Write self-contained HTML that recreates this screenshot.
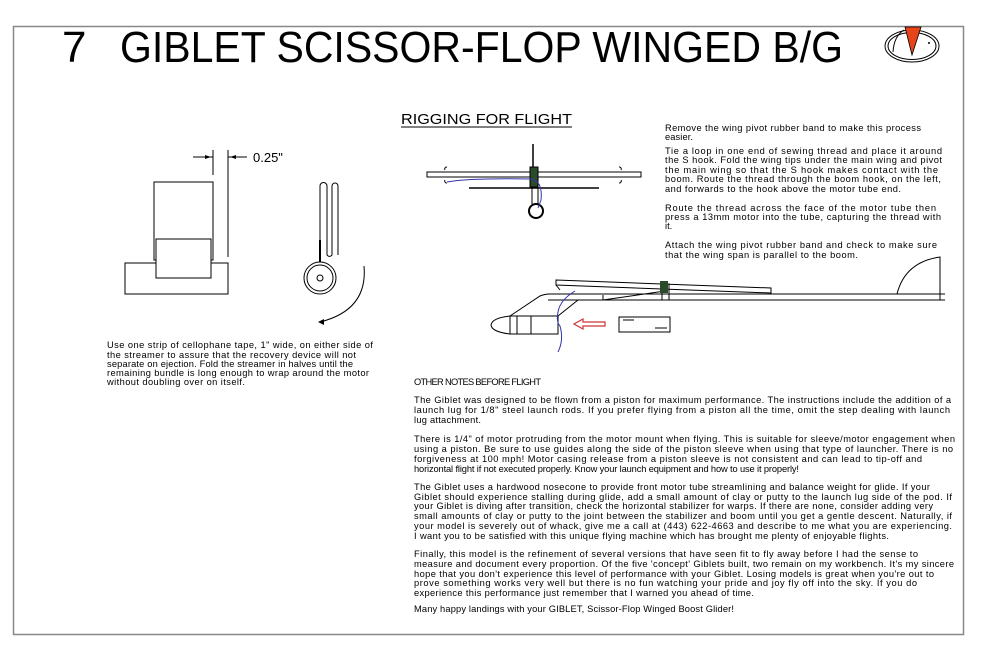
<!DOCTYPE html>
<html><head><meta charset="utf-8"><style>
html,body{margin:0;padding:0;background:#fff;}
svg{display:block;}
text{font-family:"Liberation Sans",sans-serif;fill:#000;}
.t{font-size:9.3px;}
</style></head><body>
<svg width="1000" height="647" viewBox="0 0 1000 647" xmlns="http://www.w3.org/2000/svg">
<rect x="13.5" y="26.5" width="950" height="608" fill="none" stroke="#888" stroke-width="1.5"/>
<text x="62" y="62" font-size="44">7</text>
<text x="120" y="62" font-size="44" textLength="723" lengthAdjust="spacingAndGlyphs">GIBLET SCISSOR-FLOP WINGED B/G</text>
<!-- logo -->
<g fill="none" stroke="#000" stroke-width="1">
<ellipse cx="912" cy="46" rx="27" ry="16"/>
<ellipse cx="912" cy="46" rx="24" ry="13.5"/>
<path d="M893,52 Q894,36 904,30"/>
</g>
<polygon points="905,27 921,27 912,55" fill="#e8441a" stroke="#000" stroke-width="0.8"/>
<circle cx="929" cy="43" r="1" fill="#000"/>

<!-- left drawing -->
<g stroke="#000" stroke-width="1" fill="none">
<line x1="213" y1="150" x2="213" y2="175"/>
<line x1="228" y1="150" x2="228" y2="257"/>
<line x1="193" y1="157" x2="213" y2="157"/>
<line x1="228" y1="157" x2="247" y2="157"/>
<rect x="154" y="182" width="59" height="78"/>
<rect x="125" y="263" width="103" height="31"/>
<rect x="156" y="239" width="55" height="39" fill="#fff"/>
<path d="M320,255 V186 a3.5,3.5 0 0 1 7,0 V255 a3,3 0 0 0 5,0 V186 a3,3 0 0 1 6,0 V255"/>
<line x1="320" y1="240" x2="320" y2="262" stroke-width="2"/>
<circle cx="320" cy="278" r="16"/>
<circle cx="320" cy="278" r="13"/>
<circle cx="320" cy="278" r="3"/>
<path d="M364,266 Q368,310 320,322"/>
</g>
<polygon points="318,322 324,319 324,325" fill="#000"/>
<polygon points="211,157 205,155 205,159" fill="#000"/>
<polygon points="230,157 236,155 236,159" fill="#000"/>
<text x="253" y="162" font-size="13">0.25"</text>
<g class="t">
<text x="107" y="348" textLength="266">Use one strip of cellophane tape, 1" wide, on either side of</text>
<text x="107" y="358" textLength="249">the streamer to assure that the recovery device will not</text>
<text x="107" y="367" textLength="246">separate on ejection. Fold the streamer in halves until the</text>
<text x="107" y="376" textLength="262">remaining bundle is long enough to wrap around the motor</text>
<text x="107" y="385" textLength="138">without doubling over on itself.</text>
</g>

<!-- rigging -->
<text x="401" y="124" font-size="15" textLength="171" lengthAdjust="spacingAndGlyphs">RIGGING FOR FLIGHT</text>
<line x1="401" y1="127" x2="572" y2="127" stroke="#000" stroke-width="1"/>
<g stroke="#000" stroke-width="1" fill="none">
<line x1="533" y1="144" x2="533" y2="172" stroke-width="1.5"/>
<rect x="427" y="172" width="214" height="5"/>
<line x1="469" y1="188" x2="599" y2="188" stroke-width="1.5"/>
<line x1="532" y1="188" x2="532" y2="204"/>
<line x1="538" y1="188" x2="538" y2="204"/>
<circle cx="536" cy="211" r="7" stroke-width="2"/>
<path d="M445,170 a2,2 0 0 1 2,-3 M619,167 a2,2 0 0 1 2,3 M445,180 a2,2 0 0 0 2,3 M619,183 a2,2 0 0 0 2,-3"/>
</g>
<rect x="530" y="167" width="8" height="20" fill="#2a4a2a" stroke="#000"/>
<path d="M447,182 Q470,178 530,179 Q543,180 541,200 L538,208" fill="none" stroke="#33a" stroke-width="1"/>

<!-- side view -->
<g stroke="#000" stroke-width="1" fill="none">
<line x1="548" y1="294" x2="945" y2="294"/>
<line x1="548" y1="300" x2="945" y2="300"/>
<path d="M897,294 Q905,262 940,257 V300"/>
<polygon points="556,280 771,288 771,293 556,285"/>
<line x1="556" y1="285" x2="560" y2="290"/>
<path d="M665,291 L603,300 M603,300 V295"/>
<rect x="662" y="284" width="7" height="16"/>
<path d="M510,316 L540,296 Q545,294 550,294"/>
<line x1="558" y1="316" x2="578" y2="300"/>
<rect x="510" y="316" width="48" height="18"/>
<line x1="517" y1="316" x2="517" y2="334"/>
<line x1="531" y1="316" x2="531" y2="334"/>
<path d="M510,316 Q492,318 491,325 Q492,332 510,334"/>
<rect x="619" y="317" width="51" height="15"/>
<line x1="623" y1="320" x2="634" y2="320"/>
<line x1="655" y1="328" x2="667" y2="328"/>
</g>
<rect x="660" y="281" width="8" height="12" fill="#2a4a2a"/>
<path d="M575,291 Q560,300 558,312 Q556,322 560,326 Q564,340 558,352" fill="none" stroke="#33a" stroke-width="1"/>
<path d="M605,322 H583 V319 L574,324 L583,329 V326 H605 Z" fill="#fff" stroke="#c33" stroke-width="1.2"/>

<g class="t">
<text x="665" y="131" textLength="256">Remove the wing pivot rubber band to make this process</text>
<text x="665" y="140" textLength="28">easier.</text>
<text x="665" y="154" textLength="277">Tie a loop in one end of sewing thread and place it around</text>
<text x="665" y="163" textLength="277">the S hook. Fold the wing tips under the main wing and pivot</text>
<text x="665" y="173" textLength="273">the main wing so that the S hook makes contact with the</text>
<text x="665" y="182" textLength="276">boom. Route the thread through the boom hook, on the left,</text>
<text x="665" y="192" textLength="236">and forwards to the hook above the motor tube end.</text>
<text x="665" y="211" textLength="271">Route the thread across the face of the motor tube then</text>
<text x="665" y="220" textLength="276">press a 13mm motor into the tube, capturing the thread with</text>
<text x="665" y="229">it.</text>
<text x="665" y="248" textLength="272">Attach the wing pivot rubber band and check to make sure</text>
<text x="665" y="258" textLength="193">that the wing span is parallel to the boom.</text>

<text x="414" y="385" textLength="127">OTHER NOTES BEFORE FLIGHT</text>
<text x="414" y="403" textLength="537">The Giblet was designed to be flown from a piston for maximum performance. The instructions include the addition of a</text>
<text x="414" y="413" textLength="536">launch lug for 1/8" steel launch rods. If you prefer flying from a piston all the time, omit the step dealing with launch</text>
<text x="414" y="423" textLength="67">lug attachment.</text>
<text x="414" y="442" textLength="541">There is 1/4" of motor protruding from the motor mount when flying. This is suitable for sleeve/motor engagement when</text>
<text x="414" y="452" textLength="539">using a piston. Be sure to use guides along the side of the piston sleeve when using that type of launcher. There is no</text>
<text x="414" y="462" textLength="508">forgiveness at 100 mph! Motor casing release from a piston sleeve is not consistent and can lead to tip-off and</text>
<text x="414" y="472" textLength="385">horizontal flight if not executed properly. Know your launch equipment and how to use it properly!</text>
<text x="414" y="490" textLength="516">The Giblet uses a hardwood nosecone to provide front motor tube streamlining and balance weight for glide. If your</text>
<text x="414" y="500" textLength="538">Giblet should experience stalling during glide, add a small amount of clay or putty to the launch lug side of the pod. If</text>
<text x="414" y="509" textLength="519">your Giblet is diving after transition, check the horizontal stabilizer for warps. If there are none, consider adding very</text>
<text x="414" y="519" textLength="538">small amounts of clay or putty to the joint between the stabilizer and boom until you get a gentle descent. Naturally, if</text>
<text x="414" y="529" textLength="538">your model is severely out of whack, give me a call at (443) 622-4663 and describe to me what you are experiencing.</text>
<text x="414" y="539" textLength="475">I want you to be satisfied with this unique flying machine which has brought me plenty of enjoyable flights.</text>
<text x="414" y="557" textLength="504">Finally, this model is the refinement of several versions that have seen fit to fly away before I had the sense to</text>
<text x="414" y="567" textLength="540">measure and document every proportion. Of the five 'concept' Giblets built, two remain on my workbench. It's my sincere</text>
<text x="414" y="577" textLength="520">hope that you don't experience this level of performance with your Giblet. Losing models is great when you're out to</text>
<text x="414" y="586" textLength="503">prove something works very well but there is no fun watching your pride and joy fly off into the sky. If you do</text>
<text x="414" y="596" textLength="340">experience this performance just remember that I warned you ahead of time.</text>
<text x="414" y="612" textLength="320">Many happy landings with your GIBLET, Scissor-Flop Winged Boost Glider!</text>
</g>
</svg>
</body></html>
